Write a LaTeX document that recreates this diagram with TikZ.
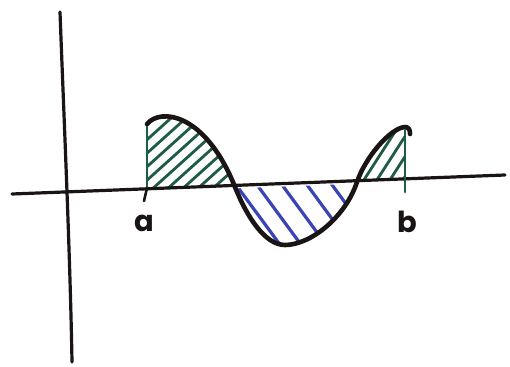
\documentclass[tikz,border=0pt]{standalone}
\usepackage{fontspec}
\setmainfont{Poppins}
\definecolor{hgreen}{HTML}{1F5C45}
\definecolor{hblue}{HTML}{3B44B5}
\definecolor{ink}{HTML}{1A1414}
\begin{document}
\begin{tikzpicture}[x=1pt,y=-1pt,line cap=round,line join=round,
  axisline/.style={line width=3.2pt,ink},
  curveline/.style={line width=4.6pt,ink},
  ghatch/.style={hgreen,line width=2.8pt},
  bhatch/.style={hblue,line width=3.2pt},
  edgeline/.style={hgreen,line width=2.8pt},
  lbl/.style={font=\fontsize{29}{29}\selectfont\bfseries,text=ink,inner sep=0pt}]
\useasboundingbox (0,0) rectangle (510,366);
\fill[white] (0,0) rectangle (510,366);
% named points
\coordinate (xl) at (12,194);
\coordinate (xr) at (505,175);
\coordinate (yt) at (60,12);
\coordinate (yb) at (72,362);
\coordinate (atop) at (147,124);
\coordinate (abot) at (147,188);
\coordinate (atick) at (144,201);
\coordinate (btop) at (405,130);
\coordinate (bbot) at (405,192);
\coordinate (c0) at (147,124);
\coordinate (c1) at (235,187);
\coordinate (c2) at (285,245);
\coordinate (c3) at (357,182);
\coordinate (c4) at (405,127);
\coordinate (c5) at (410,134);
% green hatches (above axis, below curve)
\begin{scope}
  \clip (0,0) -- (510,0) -- (510,174.8) -- (0,194.5) -- cycle;
  \clip (c0) .. controls (160,108) and (205,112) .. (c1)
        .. controls (247,217) and (265,245) .. (c2)
        .. controls (310,245) and (345,218) .. (c3)
        .. controls (365,158) and (390,128) .. (c4)
        -- (407,300) -- (147,300) -- cycle;
  \begin{scope}
    \clip (0,0) rectangle (300,366);
    \foreach \x in {80,95,...,240} \draw[ghatch] (\x,200) -- ++(110,-99);
  \end{scope}
  \begin{scope}
    \clip (300,0) rectangle (510,366);
    \foreach \x in {360,373,386,399} \draw[ghatch] (\x,186) -- ++(40,-62);
  \end{scope}
\end{scope}
% blue hatches (below axis, above curve)
\begin{scope}
  \clip (0,197.5) -- (510,177.8) -- (510,366) -- (0,366) -- cycle;
  \clip (c0) .. controls (160,108) and (205,112) .. (c1)
        .. controls (247,217) and (265,245) .. (c2)
        .. controls (310,245) and (345,218) .. (c3)
        .. controls (365,158) and (390,128) .. (c4)
        -- (407,0) -- (147,0) -- cycle;
  \foreach \x in {231,252,277,302,327} \draw[bhatch] (\x,178) -- ++(100,136);
\end{scope}
% axes
\draw[axisline] (xl) -- (xr);
\draw[axisline] (yt) .. controls (64,120) and (70,250) .. (yb);
% boundary verticals
\draw[edgeline] (atop) -- (abot);
\draw[line width=2.6pt,ink] (abot) -- (atick);
\draw[edgeline] (btop) -- (bbot);
% curve
\draw[curveline] (c0) .. controls (160,108) and (205,112) .. (c1)
        .. controls (247,217) and (265,245) .. (c2)
        .. controls (310,245) and (345,218) .. (c3)
        .. controls (365,158) and (390,128) .. (c4)
        .. controls (409,127) and (410,130) .. (c5);
% labels
\node[lbl] (la) at (144,223) {a};
\node[lbl] (lb) at (407,222) {b};
\end{tikzpicture}
\end{document}
